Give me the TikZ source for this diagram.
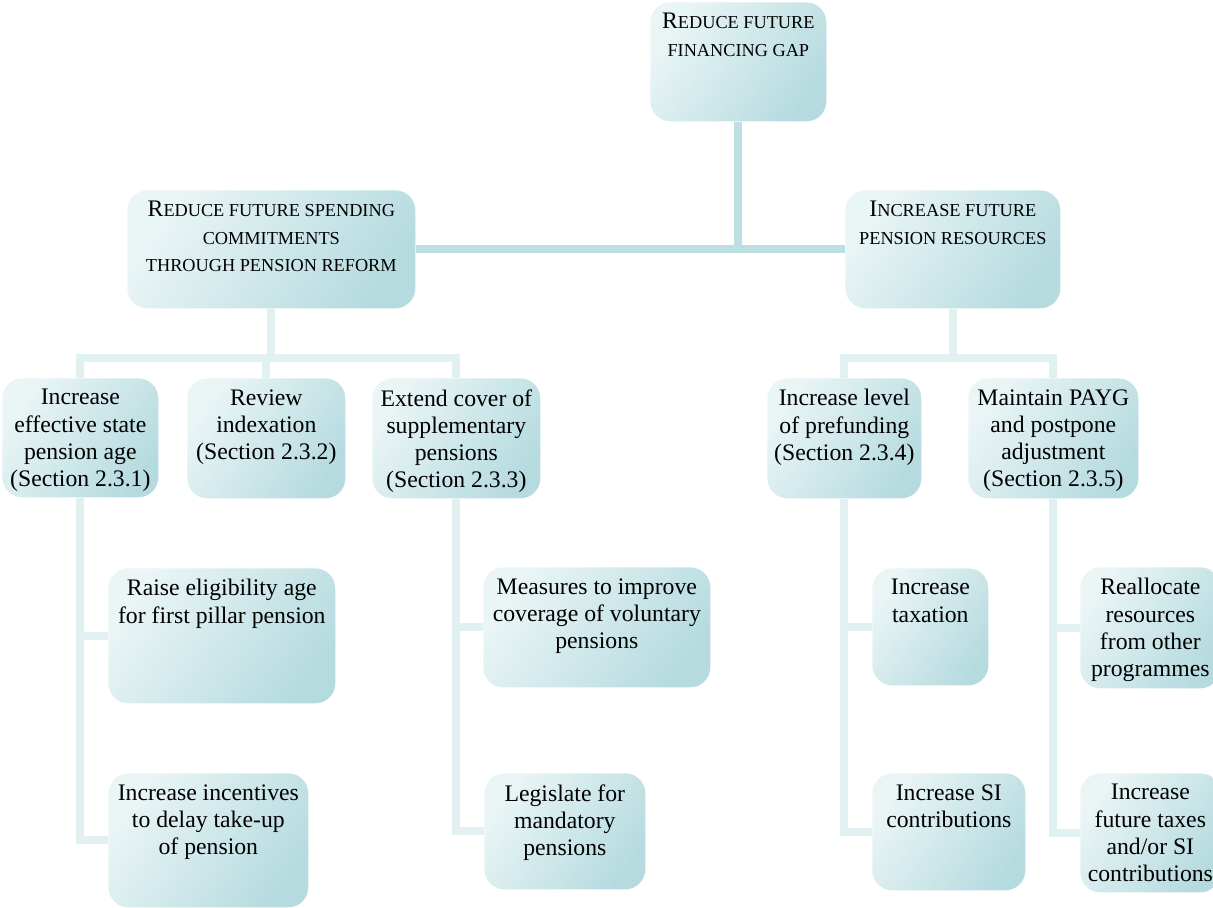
\documentclass[tikz,border=0pt]{standalone}
\usepackage{fontspec}
\setmainfont{Liberation Serif}
\usepackage{tikz}
\usetikzlibrary{positioning,
  calc
}
\definecolor{boxlight}{HTML}{EAF5F6}
\definecolor{boxmid}{HTML}{DCEFF0}
\definecolor{boxdark}{HTML}{B6DBDF}
\definecolor{linedark}{HTML}{BCDFE2}
\definecolor{linelight}{HTML}{E1F1F2}

\tikzstyle{box} = [rounded corners=0.4cm, top color=boxlight, middle color=boxmid,
  bottom color=boxdark, shading angle=55, anchor=north west, inner sep=0]
\tikzstyle{txt} = [align=center, inner sep=0, font=\fontsize{13.5}{15.5}\selectfont]
\tikzstyle{mainlink} = [linedark, line width=4.5pt]
\tikzstyle{sublink} = [linelight, line width=4.5pt]

\newcommand{\scx}[1]{{\fontsize{10.4}{15.5}\selectfont #1}}

\begin{document}
\begin{tikzpicture}[x=0.02cm, y=-0.02cm]
  \useasboundingbox (0,0) rectangle (1213,907);

  % top goal
  \node[box, minimum width=3.52cm, minimum height=2.38cm] (gap) at (650,2) {};
  \node[txt, below=6.3pt of gap.north] (gap-t) {R\scx{EDUCE FUTURE}\\\scx{FINANCING GAP}};

  \node[box, minimum width=5.76cm, minimum height=2.36cm] (spend) at (127,190) {};
  \node[txt, below=6.3pt of spend.north] (spend-t) {R\scx{EDUCE FUTURE SPENDING}\\\scx{COMMITMENTS}\\\scx{THROUGH PENSION REFORM}};
  \node[box, minimum width=4.3cm, minimum height=2.36cm] (res) at (845,190) {};
  \node[txt, below=6.3pt of res.north] (res-t) {I\scx{NCREASE FUTURE}\\\scx{PENSION RESOURCES}};

  % sections
  \node[box, minimum width=3.12cm, minimum height=2.38cm] (age) at (2,378) {};
  \node[txt, below=6.3pt of age.north] (age-t) {Increase\\effective state\\pension age\\(Section 2.3.1)};
  \node[box, minimum width=3.16cm, minimum height=2.4cm] (rev) at (187,378) {};
  \node[txt, below=6.3pt of rev.north] (rev-t) {Review\\indexation\\(Section 2.3.2)};
  \node[box, minimum width=3.36cm, minimum height=2.4cm] (ext) at (372,378) {};
  \node[txt, below=6.3pt of ext.north] (ext-t) {Extend cover of\\supplementary\\pensions\\(Section 2.3.3)};
  \node[box, minimum width=3.08cm, minimum height=2.4cm] (pref) at (767,378) {};
  \node[txt, below=6.3pt of pref.north] (pref-t) {Increase level\\of prefunding\\(Section 2.3.4)};
  \node[box, minimum width=3.4cm, minimum height=2.4cm] (payg) at (968,378) {};
  \node[txt, below=6.3pt of payg.north] (payg-t) {Maintain PAYG\\and postpone\\adjustment\\(Section 2.3.5)};

  % measures
  \node[box, minimum width=4.54cm, minimum height=2.7cm] (raise) at (108,568) {};
  \node[txt, below=6.3pt of raise.north] (raise-t) {Raise eligibility age\\for first pillar pension};
  \node[box, minimum width=4cm, minimum height=2.68cm] (incent) at (108,773) {};
  \node[txt, below=6.3pt of incent.north] (incent-t) {Increase incentives\\to delay take-up\\of pension};
  \node[box, minimum width=4.54cm, minimum height=2.4cm] (meas) at (483,567) {};
  \node[txt, below=6.3pt of meas.north] (meas-t) {Measures to improve\\coverage of voluntary\\pensions};
  \node[box, minimum width=3.22cm, minimum height=2.32cm] (legis) at (484,773) {};
  \node[txt, below=6.3pt of legis.north] (legis-t) {Legislate for\\mandatory\\pensions};
  \node[box, minimum width=2.32cm, minimum height=2.34cm] (tax) at (872,568) {};
  \node[txt, below=6.3pt of tax.north] (tax-t) {Increase\\taxation};
  \node[box, minimum width=3.06cm, minimum height=2.34cm] (si) at (872,773) {};
  \node[txt, below=6.3pt of si.north] (si-t) {Increase SI\\contributions};
  \node[box, minimum width=2.8cm, minimum height=2.42cm] (realloc) at (1080,567) {};
  \node[txt, below=6.3pt of realloc.north] (realloc-t) {Reallocate\\resources\\from other\\programmes};
  \node[box, minimum width=2.8cm, minimum height=2.38cm] (fut) at (1080,773) {};
  \node[txt, below=6.3pt of fut.north] (fut-t) {Increase\\future taxes\\and/or SI\\contributions};

  % links
  \draw[mainlink] (gap.south) -- (gap.south |- spend.east);
  \draw[mainlink] (spend.east) -- (res.west);

  \coordinate (lsplit) at ($(spend.south)+(0,49)$);
  \coordinate (rsplit) at ($(res.south)+(0,49)$);
  \draw[sublink] (spend.south) -- (lsplit);
  \draw[sublink] (age.north) |- (lsplit) -| (ext.north);
  \draw[sublink] (rev.north) -- (rev.north |- lsplit);
  \draw[sublink] (res.south) -- (rsplit);
  \draw[sublink] (pref.north) |- (rsplit) -| (payg.north);

  \draw[sublink] (age.south) |- (raise.west);
  \draw[sublink] (age.south) |- (incent.west);
  \draw[sublink] (ext.south) |- (meas.west);
  \draw[sublink] (ext.south) |- (legis.west);
  \draw[sublink] (pref.south) |- (tax.west);
  \draw[sublink] (pref.south) |- (si.west);
  \draw[sublink] (payg.south) |- (realloc.west);
  \draw[sublink] (payg.south) |- (fut.west);
\end{tikzpicture}
\end{document}
